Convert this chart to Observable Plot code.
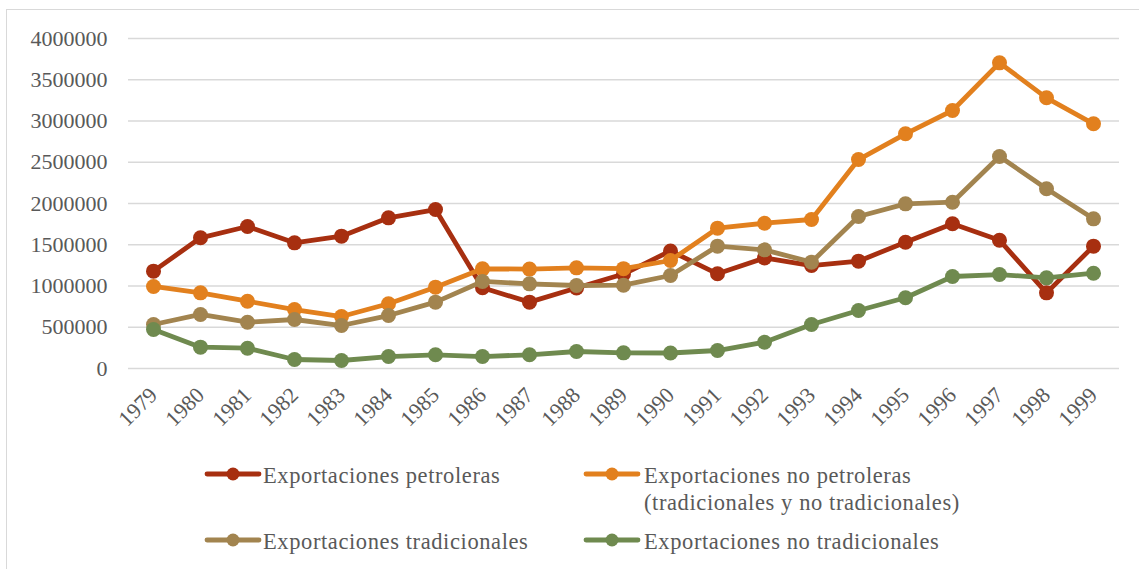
<!DOCTYPE html>
<html><head><meta charset="utf-8">
<script src="https://cdn.jsdelivr.net/npm/d3@7"></script>
<script src="https://cdn.jsdelivr.net/npm/@observablehq/plot@0.6"></script>
<style>
body{margin:0;background:#fff;}
#wrap{position:relative;width:1139px;height:569px;overflow:hidden;font-family:"Liberation Serif","Times New Roman",serif;background:#fff;}
#frame{position:absolute;left:6px;top:9px;width:1200px;height:600px;border:1px solid #d9d9d9;}
#chart{position:absolute;left:0;top:0;}
.leg{position:absolute;font-size:22.5px;color:#595959;letter-spacing:0.6px;line-height:27px;white-space:nowrap;}
.sw{position:absolute;}
</style></head><body>
<div id="wrap"><div id="frame"></div><div id="chart"></div><div id="legend"></div></div>
<script>
const years = [1979,1980,1981,1982,1983,1984,1985,1986,1987,1988,1989,1990,1991,1992,1993,1994,1995,1996,1997,1998,1999];
const petroleras = [1180000,1584000,1721000,1523000,1604000,1826000,1927000,978000,804000,975000,1145000,1425000,1148000,1340000,1248000,1301000,1531000,1754000,1555000,917000,1483000];
const noPetroleras = [994000,917000,816000,715000,630000,785000,986000,1208000,1205000,1220000,1210000,1309000,1701000,1761000,1806000,2533000,2845000,3127000,3705000,3281000,2966000];
const tradicionales = [533000,655000,561000,594000,521000,642000,804000,1055000,1026000,1006000,1010000,1127000,1483000,1438000,1289000,1842000,1996000,2016000,2570000,2178000,1814000];
const noTradicionales = [473000,259000,246000,109000,97000,145000,166000,145000,166000,206000,190000,188000,218000,319000,533000,703000,857000,1115000,1139000,1099000,1155000];
const seriesNames = ["Exportaciones petroleras","Exportaciones no petroleras (tradicionales y no tradicionales)","Exportaciones tradicionales","Exportaciones no tradicionales"];
const seriesColors = ["#A72F10","#E2801E","#A2844F","#6F8A4F"];
const yTicks = [0,500000,1000000,1500000,2000000,2500000,3000000,3500000,4000000];

const allSeries = [petroleras, noPetroleras, tradicionales, noTradicionales];
const rows = allSeries.map((arr, s) => years.map((yr, i) => ({year: yr, value: arr[i], serie: seriesNames[s]})));

const marks = [
  Plot.gridY(yTicks, {stroke: "#d9d9d9", strokeOpacity: 1, strokeWidth: 1.5}),
  Plot.axisY(yTicks, {tickSize: 0, tickPadding: 21, tickFormat: d3.format("d"), fill: "#595959", label: null, fontSize: 22, style: "letter-spacing:1px"}),
  Plot.axisX(years, {tickSize: 0, tickRotate: -45, tickPadding: 23, tickFormat: d => String(d), fill: "#595959", label: null, fontSize: 22})
];
rows.forEach(r => {
  marks.push(Plot.line(r, {x: "year", y: "value", stroke: "serie", strokeWidth: 4.8}));
  marks.push(Plot.dot(r, {x: "year", y: "value", fill: "serie", r: 7.5}));
});

const chart = Plot.plot({
  width: 1139, height: 440,
  marginLeft: 128, marginRight: 20, marginTop: 38, marginBottom: 72,
  x: {type: "point", domain: years, padding: 0, insetLeft: 22, insetRight: 24},
  y: {domain: [0, 4000000]},
  color: {domain: seriesNames, range: seriesColors},
  style: {fontFamily: '"Liberation Serif","Times New Roman",serif', fontSize: "22px", color: "#595959", background: "transparent"},
  marks
});
document.getElementById("chart").appendChild(chart);

// legend
const legendItems = [
  {s: 0, sx: 204, tx: 263, top: 462, label: "Exportaciones petroleras"},
  {s: 1, sx: 583, tx: 644, top: 462, label: "Exportaciones no petroleras<br>(tradicionales y no tradicionales)"},
  {s: 2, sx: 204, tx: 263, top: 528, label: "Exportaciones tradicionales"},
  {s: 3, sx: 583, tx: 644, top: 528, label: "Exportaciones no tradicionales"}
];
const leg = document.getElementById("legend");
legendItems.forEach(it => {
  const c = seriesColors[it.s];
  const sw = document.createElement("div");
  sw.className = "sw";
  sw.style.left = it.sx + "px";
  sw.style.top = (it.top + 3) + "px";
  sw.innerHTML = `<svg width="58" height="18"><line x1="3" x2="55" y1="9" y2="9" stroke="${c}" stroke-width="4.8" stroke-linecap="round"/><circle cx="29" cy="9" r="6.5" fill="${c}"/></svg>`;
  leg.appendChild(sw);
  const t = document.createElement("div");
  t.className = "leg";
  t.style.left = it.tx + "px";
  t.style.top = it.top + "px";
  t.innerHTML = it.label;
  leg.appendChild(t);
});
</script>
</body></html>
